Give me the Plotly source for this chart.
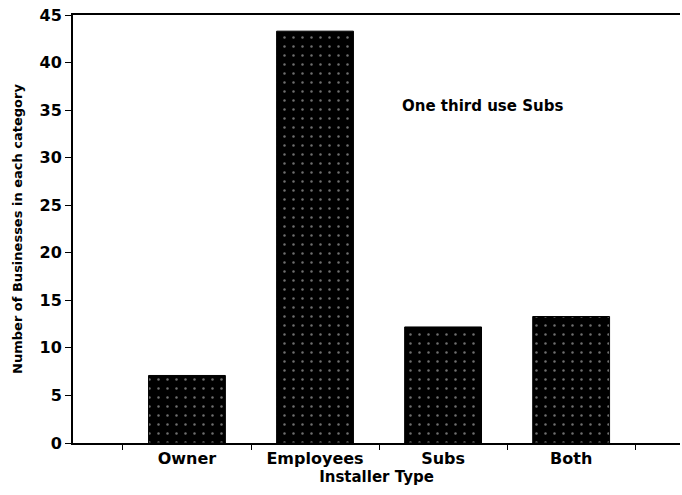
import plotly.graph_objects as go

# Installer type survey counts
categories = ["Owner", "Employees", "Subs", "Both"]
counts = [7.1, 43.3, 12.2, 13.3]
y_ticks = [0, 5, 10, 15, 20, 25, 30, 35, 40, 45]

font_family = "DejaVu Sans, Arial, sans-serif"

fig = go.Figure()
fig.add_trace(go.Bar(
    x=categories,
    y=counts,
    width=0.6,
    marker=dict(
        color="black",
        line=dict(color="black", width=1),
        pattern=dict(shape=".", fgcolor="#dddddd", bgcolor="black", size=9, solidity=0.06),
    ),
    showlegend=False,
))

fig.add_annotation(
    x=2.31, y=35.4, xref="x", yref="y",
    text="One third use Subs",
    showarrow=False,
    font=dict(family=font_family, size=15, color="black", weight="bold"),
)

fig.update_layout(
    width=682, height=495,
    margin=dict(l=73, r=2, t=15, b=52),
    plot_bgcolor="white",
    paper_bgcolor="white",
    font=dict(family=font_family, color="black"),
    bargap=0.4,
)
fig.update_xaxes(
    range=[-0.89, 3.85],
    automargin=False,
    showline=True, linecolor="black", linewidth=2, mirror=True,
    ticks="outside", tickson="boundaries", ticklen=5, tickcolor="black",
    tickfont=dict(size=16, family=font_family, weight="bold"),
    title=dict(text="Installer Type", font=dict(size=15, weight="bold"), standoff=2),
    showgrid=False,
)
fig.update_yaxes(
    range=[0, 45],
    automargin=False,
    tickvals=y_ticks,
    showline=True, linecolor="black", linewidth=2,
    ticks="outside", ticklen=6, tickcolor="black",
    tickfont=dict(size=16, family=font_family, weight="bold"),
    title=dict(text="Number of Businesses in each category", font=dict(size=13, weight="bold"), standoff=14),
    showgrid=False, zeroline=False,
)

fig.write_html(
    "out.html",
    config={"displayModeBar": False},
    post_script="document.body.style.margin='0';",
)
